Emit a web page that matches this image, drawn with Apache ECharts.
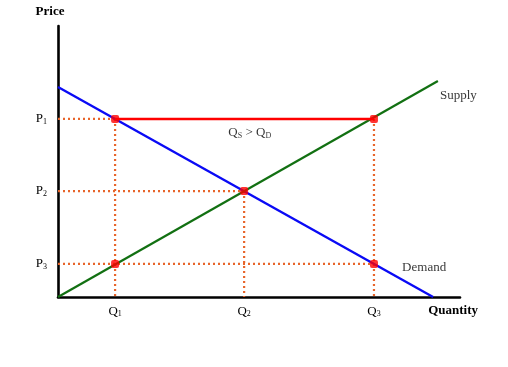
<!DOCTYPE html>
<html><head><meta charset="utf-8">
<script src="https://cdn.jsdelivr.net/npm/echarts@6/dist/echarts.min.js"></script>
<style>html,body{margin:0;padding:0;background:#fff}#c{width:508px;height:367px}</style>
</head><body><div id="c"></div>
<script>
// Quantity levels (x) and price levels (y)
var qLabels = ['Q1', 'Q2', 'Q3'];
var qValues = [14.2, 46.3, 78.6];
var pLabels = ['P1', 'P2', 'P3'];
var pValues = [65.7, 39.1, 12.2];
// Curves
var supplyLine = [[0, 0], [94.5, 79.7]];
var demandLine = [[0, 77.5], [93.3, 0]];
// Annotations
var curveNames = ['Supply', 'Demand'];
var curveLabelPos = [[95.0, 74.2], [85.6, 10.7]];
var surplusText = ['Q', 'S', ' > Q', 'D'];
var surplusPos = [47.7, 60.5];

var FONT = '"Liberation Serif", "Times New Roman", serif';
var DOT = '#e8652a';
var TXT = '#000';

function sub(label) {
  return '{m|' + label.charAt(0) + '}{s|' + label.slice(1) + '}';
}
var richSub = {
  m: { fontFamily: FONT, fontSize: 13, color: TXT },
  s: { fontFamily: FONT, fontSize: 8, color: TXT, padding: [5, 0, 0, 0] }
};

var P1 = pValues[0], P2 = pValues[1], P3 = pValues[2];
var Q1 = qValues[0], Q2 = qValues[1], Q3 = qValues[2];
var dottedSegs = [
  [[0, P1], [Q1, P1]],
  [[0, P2], [Q2, P2]],
  [[0, P3], [Q3, P3]],
  [[Q1, P1], [Q1, 0]],
  [[Q2, P2], [Q2, 0]],
  [[Q3, P1], [Q3, 0]]
];
var dots = [[Q1, P1], [Q3, P1], [Q2, P2], [Q1, P3], [Q3, P3]];

var series = [];
dottedSegs.forEach(function (seg) {
  series.push({
    type: 'line', data: seg, symbol: 'none', silent: true, z: 1,
    lineStyle: { color: DOT, width: 2.2, type: [2, 3], cap: 'butt' }
  });
});
series.push({ type: 'line', data: demandLine, symbol: 'none', z: 3,
  lineStyle: { color: '#0a0af5', width: 2.4 } });
series.push({ type: 'line', data: supplyLine, symbol: 'none', z: 3,
  lineStyle: { color: '#127012', width: 2.2 } });
series.push({ type: 'line', data: [[Q1, P1], [Q3, P1]], symbol: 'none', z: 4,
  lineStyle: { color: '#ff0000', width: 2.6 } });
series.push({ type: 'scatter', data: dots, symbol: 'roundRect', symbolSize: 8, z: 5,
  itemStyle: { color: '#ff0000' } });
series.push({
  type: 'scatter', symbolSize: 0, z: 6,
  data: curveLabelPos.map(function (p, i) { return { value: p, name: curveNames[i] }; }),
  label: { show: true, position: 'right', distance: 0, formatter: '{b}',
    fontFamily: FONT, fontSize: 13, color: TXT }
});
series.push({
  type: 'scatter', symbolSize: 0, z: 6,
  data: [{ value: surplusPos }],
  label: { show: true, position: 'inside',
    formatter: '{m|' + surplusText[0] + '}{s|' + surplusText[1] + '}{m|' + surplusText[2] + '}{s|' + surplusText[3] + '}',
    rich: richSub }
});

var chart = echarts.init(document.getElementById('c'), null, { renderer: 'canvas' });
chart.setOption({
  animation: false,
  backgroundColor: '#fff',
  grid: { left: 58, top: 26, right: 48, bottom: 70, containLabel: false },
  xAxis: {
    type: 'value', min: 0, max: 100,
    name: 'Quantity', nameLocation: 'end', nameGap: 18,
    nameTextStyle: { fontFamily: FONT, fontSize: 13, fontWeight: 'bold', color: TXT,
      align: 'right', verticalAlign: 'top', padding: [7, 0, 0, 0] },
    axisLine: { show: true, onZero: false, lineStyle: { color: '#000', width: 2.6 } },
    axisTick: { show: false },
    splitLine: { show: false },
    axisLabel: { customValues: qValues, margin: 8,
      formatter: function (v) { return sub(qLabels[qValues.indexOf(v)]); }, rich: richSub }
  },
  yAxis: {
    type: 'value', min: 0, max: 100,
    name: 'Price', nameLocation: 'end', nameGap: 8,
    nameTextStyle: { fontFamily: FONT, fontSize: 13, fontWeight: 'bold', color: TXT,
      padding: [0, 16, 0, 0] },
    axisLine: { show: true, onZero: false, lineStyle: { color: '#000', width: 2.6 } },
    axisTick: { show: false },
    splitLine: { show: false },
    axisLabel: { customValues: pValues, margin: 11,
      formatter: function (v) { return sub(pLabels[pValues.indexOf(v)]); }, rich: richSub }
  },
  series: series
});
</script></body></html>
